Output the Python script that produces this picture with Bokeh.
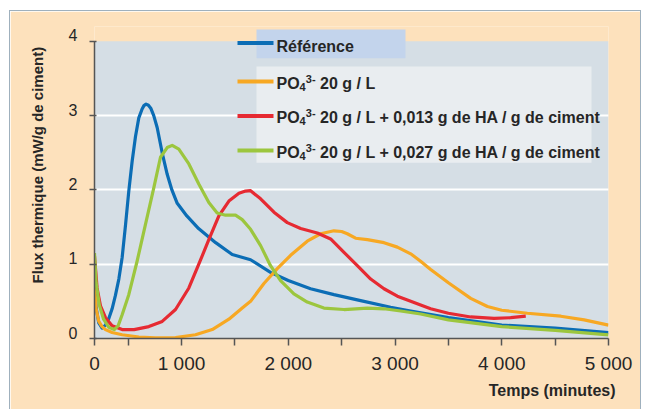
import math
from bokeh.plotting import figure
from bokeh.models import FixedTicker, Label, Range1d, Title, Spacer, LinearAxis
from bokeh.layouts import row, column
from bokeh.embed import file_html
from bokeh.resources import INLINE

# ---------------- data ----------------
ref_x = [185, 200, 225, 256, 288, 319, 350, 381, 413, 444, 475, 506, 538, 569, 600,
         631, 648, 668, 690, 712, 740, 772, 819, 866, 910, 960, 1050, 1160, 1320, 1475,
         1647, 1834, 2000, 2209, 2428, 2678, 2959, 3147, 3500, 4000, 4500, 5000]
ref_y = [0.80, 0.42, 0.21, 0.14, 0.18, 0.27, 0.40, 0.58, 0.80, 1.09, 1.52, 1.98, 2.39,
         2.72, 2.97, 3.09, 3.135, 3.155, 3.14, 3.10, 3.00, 2.84, 2.50, 2.21, 2.00, 1.82,
         1.65, 1.48, 1.29, 1.13, 1.06, 0.89, 0.78, 0.67, 0.59, 0.51, 0.42, 0.37, 0.28,
         0.18, 0.14, 0.08]

po4_x = [185, 200, 225, 256, 288, 350, 444, 600, 756, 944, 1131, 1288, 1444, 1569,
         1647, 1772, 1897, 2022, 2178, 2303, 2428, 2500, 2553, 2631, 2741, 2897, 3022,
         3147, 3240, 3334, 3500, 3709, 3866, 4000, 4240, 4553, 4772, 5000]
po4_y = [0.75, 0.40, 0.23, 0.16, 0.12, 0.08, 0.05, 0.02, 0.01, 0.013, 0.05, 0.12,
         0.26, 0.41, 0.50, 0.74, 0.94, 1.12, 1.31, 1.41, 1.45, 1.44, 1.41, 1.35, 1.33,
         1.29, 1.23, 1.14, 1.04, 0.93, 0.75, 0.54, 0.43, 0.38, 0.34, 0.30, 0.25, 0.18]

ha13_x = [185, 209, 241, 288, 350, 444, 556, 694, 819, 944, 1069, 1162, 1256, 1350,
          1444, 1538, 1600, 1647, 1741, 1866, 1991, 2116, 2272, 2397, 2522, 2647, 2772,
          2897, 3022, 3147, 3240, 3334, 3500, 3709, 3928, 4084, 4225]
ha13_y = [1.11, 0.68, 0.44, 0.28, 0.17, 0.12, 0.12, 0.16, 0.23, 0.39, 0.68, 1.00,
          1.33, 1.65, 1.85, 1.955, 1.985, 1.99, 1.88, 1.70, 1.56, 1.48, 1.42, 1.34, 1.16,
          0.98, 0.80, 0.67, 0.57, 0.50, 0.45, 0.40, 0.34, 0.29, 0.27, 0.28, 0.30]

ha27_x = [185, 200, 230, 270, 320, 370, 406, 444, 506, 584, 663, 741, 803, 866, 913,
          975, 1069, 1162, 1256, 1334, 1413, 1506, 1569, 1647, 1741, 1834, 1928, 2053,
          2178, 2334, 2522, 2741, 2897, 3053, 3240, 3500, 4000, 4500, 5000]
ha27_y = [1.15, 0.75, 0.45, 0.26, 0.15, 0.12, 0.17, 0.32, 0.59, 1.04, 1.54, 2.03,
          2.44, 2.57, 2.60, 2.55, 2.35, 2.08, 1.83, 1.69, 1.66, 1.66, 1.60, 1.47, 1.25,
          0.98, 0.78, 0.60, 0.49, 0.41, 0.39, 0.41, 0.40, 0.37, 0.33, 0.25, 0.16, 0.11,
          0.05]

x_ticks = [185, 1000, 2000, 3000, 4000, 5000]
x_tick_labels = ["0", "1 000", "2 000", "3 000", "4 000", "5 000"]
x_minor_ticks = [500, 1500, 2500, 3500, 4500]
y_ticks = [0, 1, 2, 3, 4]
y_tick_labels = ["0", "1", "2", "3", "4"]
y_grid_ticks = [1, 2, 3]

legend_first = "Référence"
legend_formula = "PO"
legend_sub = "4"
legend_sup = "3-"
legend_rest = ["20 g / L",
               "20 g / L + 0,013 g de HA / g de ciment",
               "20 g / L + 0,027 g de HA / g de ciment"]
x_title = "Temps (minutes)"
y_title = "Flux thermique (mW/g de ciment)"

# ---------------- style ----------------
PEACH = "#FDE1BC"
PLOT_BG = "#D5DEE5"
BOX1 = "#C3D4EC"
BOX2 = "#E9EDF0"
FRAME_LINE = "#9FB0BD"
BLUE = "#0B6DB5"
ORANGE = "#F7A823"
RED = "#E62A32"
GREEN = "#9CC63E"
AXIS = "#555555"
TXT = "#262626"
FONT = "Liberation Sans"

FIG_X, FIG_Y = 10, 11          # page position of the figure
W, H = 630, 398
FR_L, FR_T, FR_W, FR_H = 84, 15, 514, 312
X0, X1 = x_ticks[0], x_ticks[-1]
Y0, Y1 = 0, 4.2
Y_LABEL_RAISE_PX = 6           # y tick labels sit slightly above their ticks

def dx(px):  # page pixel -> data x
    return X0 + (px - FIG_X - FR_L) * (X1 - X0) / FR_W

def dy(py):  # page pixel -> data y
    return Y1 - (py - FIG_Y - FR_T) * (Y1 - Y0) / FR_H

p = figure(width=W, height=H, x_range=Range1d(X0, X1), y_range=Range1d(Y0, Y1),
           output_backend="svg", toolbar_location=None,
           min_border_left=FR_L, min_border_right=W - FR_L - FR_W,
           min_border_top=FR_T, min_border_bottom=H - FR_T - FR_H)
p.background_fill_color = PEACH
p.border_fill_color = PEACH
p.outline_line_color = None

# plot area background (0..4)
p.quad(left=[X0], right=[X1], bottom=[y_ticks[0]], top=[y_ticks[-1]],
       fill_color=PLOT_BG, line_color=None, level="image")

p.xgrid.visible = False
p.ygrid.ticker = FixedTicker(ticks=y_grid_ticks)
p.ygrid.grid_line_color = "white"
p.ygrid.grid_line_width = 2

# x axis
xa = p.xaxis[0]
xa.ticker = FixedTicker(ticks=x_ticks, minor_ticks=x_minor_ticks)
xa.major_label_overrides = {t: l for t, l in zip(x_ticks, x_tick_labels)}
xa.axis_line_color = AXIS
xa.axis_line_width = 1.5
xa.major_tick_line_color = AXIS
xa.minor_tick_line_color = AXIS
xa.major_tick_line_width = 1.5
xa.minor_tick_line_width = 1.5
xa.major_tick_out = 7
xa.major_tick_in = 0
xa.minor_tick_out = 7
xa.minor_tick_in = 0
xa.major_label_text_font = FONT
xa.major_label_text_font_size = "19px"
xa.major_label_text_color = TXT
xa.major_label_standoff = 7

# y axis: line + ticks (labels drawn by a second, tick-less axis, raised a little)
ya = p.yaxis[0]
ya.bounds = (y_ticks[0], y_ticks[-1])
ya.ticker = FixedTicker(ticks=y_ticks, minor_ticks=[])
ya.major_label_overrides = {t: "" for t in y_ticks}
ya.axis_line_color = AXIS
ya.axis_line_width = 1.5
ya.major_tick_line_color = AXIS
ya.major_tick_line_width = 1.5
ya.major_tick_out = 5
ya.major_tick_in = 2
ya.minor_tick_out = 0
ya.minor_tick_in = 0
ya.major_label_standoff = 0

raise_d = Y_LABEL_RAISE_PX * (Y1 - Y0) / FR_H
lab_pos = [t + raise_d for t in y_ticks]
ya2 = LinearAxis(ticker=FixedTicker(ticks=lab_pos, minor_ticks=[]))
ya2.major_label_overrides = {t: l for t, l in zip(lab_pos, y_tick_labels)}
ya2.axis_line_color = None
ya2.major_tick_line_color = None
ya2.minor_tick_line_color = None
ya2.major_tick_out = 0
ya2.major_tick_in = 0
ya2.minor_tick_out = 0
ya2.minor_tick_in = 0
ya2.major_label_text_font = FONT
ya2.major_label_text_font_size = "16px"
ya2.major_label_text_color = TXT
ya2.major_label_standoff = 12
p.add_layout(ya2, "left")

# axis titles
xt = Title(text=x_title, align="right", offset=-7, standoff=6, text_font=FONT,
           text_font_size="16px", text_font_style="bold", text_color=TXT)
p.add_layout(xt, "below")
yt = Title(text=y_title, align="left", offset=55, standoff=35, vertical_align="top",
           text_font=FONT, text_font_size="15px", text_font_style="bold",
           text_color=TXT)
p.add_layout(yt, "left")

# legend boxes
p.quad(left=[dx(256)], right=[dx(405)], top=[dy(29)], bottom=[dy(57.7)],
       fill_color=BOX1, line_color=None)
p.quad(left=[dx(256)], right=[dx(591)], top=[dy(66)], bottom=[dy(162.3)],
       fill_color=BOX2, line_color=None)

# curves
series = [(ref_x, ref_y, BLUE), (po4_x, po4_y, ORANGE),
          (ha13_x, ha13_y, RED), (ha27_x, ha27_y, GREEN)]
for xs, ys, c in series:
    p.line(xs, ys, line_color=c, line_width=3.2, line_join="round")

# legend samples & texts
line_y = [42.5, 81, 115.5, 150]
base_y = [46, 82.7, 117.3, 151.9]
for i, (xs, ys, c) in enumerate(series):
    p.line([dx(237), dx(273)], [dy(line_y[i]), dy(line_y[i])],
           line_color=c, line_width=4)

def lab(text, px, py, size, **kw):
    p.add_layout(Label(x=dx(px), y=dy(py), text=text, text_font=FONT,
                       text_font_size=size, text_color=TXT, **kw))

lab(legend_first, 276, base_y[0], "16px", text_font_style="bold",
    text_baseline="alphabetic")
for i, rest in enumerate(legend_rest):
    b = base_y[i + 1]
    lab(legend_formula, 276, b, "16px", text_font_style="bold", text_baseline="alphabetic")
    lab(legend_sub, 299.1, b + 3.5, "11px", text_font_style="bold", text_baseline="alphabetic")
    lab(legend_sup, 305.3, b - 4.5, "11px", text_font_style="bold", text_baseline="alphabetic")
    lab(rest, 319.6, b, "16px", text_font_style="bold", text_baseline="alphabetic")

# outer frame: white margin and thin border lines, as in the reference
inner = column(Spacer(width=W + 2, height=1, background=FRAME_LINE),
               row(Spacer(width=1, height=H, background=FRAME_LINE), p,
                   Spacer(width=1, height=H, background=FRAME_LINE)))
page = column(Spacer(width=1, height=FIG_Y - 1),
              row(Spacer(width=FIG_X - 1, height=1), inner))

open("out.html", "w").write(file_html(page, INLINE))
